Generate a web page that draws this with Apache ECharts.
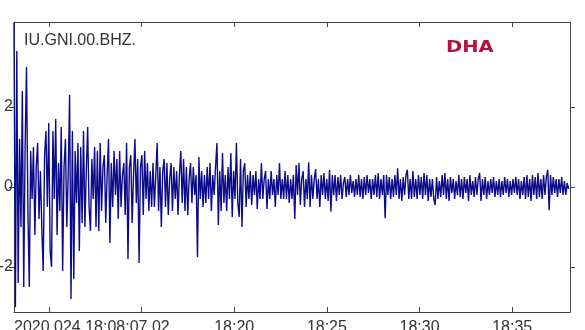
<!DOCTYPE html>
<html>
<head>
<meta charset="utf-8">
<script src="https://cdn.jsdelivr.net/npm/echarts@6/dist/echarts.min.js"></script>
<style>html,body{margin:0;padding:0;background:#fff}#c{width:585px;height:330px}</style>
</head>
<body>
<div id="c"></div>
<script>
// Station / labels
const stationLabel = 'IU.GNI.00.BHZ.';
const logoText = 'DHA';
const startLabel = '2020.024 18:08:07.02';
// time axis in minutes after 18:00
const tStart = 8.117;     // 18:08:07.02
const tEnd = 38.117;
const sampleStep = 0.075; // minutes between plotted samples
const xTickValues = [10, 15, 20, 25, 30, 35];
const xLabelValues = [8.117, 20, 25, 30, 35];
const yTickValues = [-2, 0, 2];

// amplitude samples, in segments of 50
const wave1 = [4.1, -3.0, 3.4, -2.4, 1.2, -1.0, 2.4, -2.5, 1.0, 3.0,
  -0.6, -2.5, 0.9, -0.3, 1.0, -1.2, 0.5, 1.1, -0.8, 0.4,
  -1.0, -2.1, 0.8, 1.4, -0.5, 1.6, -1.6, -2.0, 1.4, -0.3,
  1.7, -1.2, 0.6, -0.6, 1.5, -2.1, 0.5, 1.2, -1.0, 0.3,
  2.3, -2.8, 1.4, -2.3, 0.9, -0.4, 1.1, -1.6, 1.0, -0.9];
const wave2 = [1.4, -1.0, 0.4, 1.5, -0.5, -1.1, 0.7, -0.3, 1.0, -1.0,
  0.9, -1.1, 1.1, -0.6, 0.5, 0.8, -0.9, 0.3, 1.2, -1.4,
  0.6, -0.5, 0.9, -0.2, 0.7, -0.8, 0.9, -0.5, 0.3, 0.6,
  -0.7, 1.1, -1.8, 0.5, 0.8, -0.9, 0.3, 1.2, -0.4, 0.7,
  -1.9, 0.5, 0.8, -0.7, 0.9, -0.3, 0.6, -0.6, 0.4, -0.5];
const wave3 = [0.6, -0.5, 0.3, 1.1, -0.6, 0.5, -1.0, 0.4, 0.7, -0.5,
  0.6, -0.7, 0.2, 0.6, -0.6, 0.5, -0.3, 0.4, -0.7, 0.3,
  0.9, -0.4, 0.7, -0.6, 0.5, -0.7, 0.2, 0.6, -0.4, 0.5,
  -0.2, 0.3, -1.75, 0.75, -0.3, 0.4, -0.5, 0.3, -0.4, 0.5,
  -0.3, 0.6, -0.6, 0.3, -0.2, 0.5, 1.1, -0.95, 0.4, -0.6];
const wave4 = [0.85, -0.4, 0.3, -0.6, 0.5, -0.3, 0.85, -0.75, 0.4, -0.3,
  1.1, -0.4, -0.75, 0.7, -1.0, 0.4, 0.6, -0.5, 0.3, -0.3,
  0.4, -0.45, 0.3, -0.2, 0.4, -0.55, 0.2, -0.3, 0.6, -0.3,
  0.2, 0.4, -0.55, 0.2, -0.3, 0.4, -0.2, 0.2, -0.5, 0.3,
  -0.2, 0.6, -0.3, 0.2, -0.3, 0.4, -0.3, 0.3, -0.4, 0.2];
const wave5 = [-0.3, 0.3, -0.8, 0.55, -0.2, 0.6, -0.45, 0.2, 0.4, -0.5,
  0.2, -0.3, 0.62, -0.5, 0.3, -0.3, 0.2, 0.45, -0.3, 0.2,
  -0.5, 0.3, -0.2, 0.35, -0.3, 0.2, -0.35, 0.43, -0.62, 0.3,
  -0.2, 0.3, -0.35, 0.25, -0.2, 0.3, -0.3, 0.1, 0.25, -0.25,
  0.2, -0.2, 0.3, -0.15, 0.15, -0.25, 0.2, -0.2, 0.3, -0.25];
const wave6 = [0.2, -0.3, 0.25, -0.2, 0.3, -0.15, 0.2, -0.3, 0.2, -0.2,
  0.3, -0.25, 0.35, -0.3, 0.2, -0.2, 0.3, -0.78, 0.3, -0.2,
  0.25, -0.3, 0.2, -0.25, 0.3, -0.2, 0.47, -0.3, 0.2, -0.35,
  0.25, -0.2, 0.3, 0.43, -0.3, 0.2, -0.3, 0.4, -0.25, 0.2,
  -0.3, 0.3, -0.2, 0.25, -0.3, 0.35, -0.2, 0.3, -0.35, 0.2];
const wave7 = [-0.25, 0.2, -0.3, -0.45, 0.25, -0.3, 0.15, -0.25, 0.3, -0.2,
  0.35, -0.3, 0.2, -0.35, 0.25, -0.15, 0.2, -0.3, 0.15, -0.2,
  0.3, -0.25, 0.2, -0.3, 0.25, -0.15, 0.2, -0.35, 0.3, -0.2,
  0.15, -0.25, 0.25, -0.2, 0.2, 0.35, -0.35, 0.2, -0.2, 0.25,
  -0.3, 0.15, -0.2, 0.2, -0.15, 0.25, -0.25, 0.15, -0.2, 0.2];
const wave8 = [-0.25, 0.15, -0.2, 0.25, -0.15, 0.2, -0.25, 0.15, -0.2, 0.2,
  -0.15, 0.25, -0.2, 0.2, -0.3, 0.15, -0.2, 0.25, -0.3, 0.3,
  -0.25, 0.2, -0.35, 0.3, -0.2, 0.25, -0.3, 0.35, -0.25, 0.2,
  -0.3, 0.3, -0.2, 0.25, 0.43, -0.58, 0.3, -0.2, 0.25, -0.15,
  0.2, -0.25, 0.2, -0.15, 0.25, -0.2, 0.15, -0.2, 0.1, -0.05];

const amplitudes = [].concat(wave1, wave2, wave3, wave4, wave5, wave6, wave7, wave8);
const seriesData = amplitudes.map((v, i) => [tStart + i * sampleStep, v]);

const axisColor = '#444';
const textColor = '#333';
const fontFam = '"Liberation Sans", Arial, sans-serif';

const chart = echarts.init(document.getElementById('c'), null, {renderer: 'canvas'});
chart.setOption({
  animation: false,
  backgroundColor: '#fff',
  title: {
    text: stationLabel, left: 19, top: 28,
    textStyle: {fontSize: 16, fontWeight: 'normal', color: textColor, fontFamily: fontFam}
  },
  graphic: [{
    type: 'text', x: 446, y: 41, scaleX: 1.3,
    style: {text: logoText, font: 'bold 15px "DejaVu Sans"', fill: '#b3123d'}
  }],
  grid: {left: 14, right: 15, top: 22, bottom: 18, containLabel: false, outerBoundsMode: 'none'},
  xAxis: [{
    type: 'value', position: 'bottom', min: tStart, max: tEnd,
    axisLine: {show: true, onZero: false, lineStyle: {color: axisColor, width: 1}},
    axisTick: {show: true, inside: true, length: 5, customValues: xTickValues, lineStyle: {color: axisColor}},
    axisLabel: {
      show: true, customValues: xLabelValues, margin: 8, alignMinLabel: 'left',
      fontSize: 16, color: textColor, fontFamily: fontFam,
      formatter: v => (Math.abs(v - tStart) < 0.01 ? startLabel : '18:' + Math.round(v))
    },
    splitLine: {show: false}
  }, {
    type: 'value', position: 'top', min: tStart, max: tEnd,
    axisLine: {show: true, onZero: false, lineStyle: {color: axisColor, width: 1}},
    axisTick: {show: true, inside: true, length: 5, customValues: xTickValues, lineStyle: {color: axisColor}},
    axisLabel: {show: false},
    splitLine: {show: false}
  }],
  yAxis: [{
    type: 'value', position: 'left', min: -3.125, max: 4.125,
    axisLine: {show: true, onZero: false, lineStyle: {color: axisColor, width: 1}},
    axisTick: {show: true, inside: false, length: 5, customValues: yTickValues, lineStyle: {color: axisColor}},
    axisLabel: {show: true, customValues: yTickValues, margin: 1, fontSize: 16, color: textColor, fontFamily: fontFam},
    splitLine: {show: false}
  }, {
    type: 'value', position: 'right', min: -3.125, max: 4.125,
    axisLine: {show: true, onZero: false, lineStyle: {color: axisColor, width: 1}},
    axisTick: {show: true, inside: false, length: 5, customValues: yTickValues, lineStyle: {color: axisColor}},
    axisLabel: {show: false},
    splitLine: {show: false}
  }],
  series: [{
    type: 'line', xAxisIndex: 0, yAxisIndex: 0,
    data: seriesData, showSymbol: false, symbol: 'none', sampling: null,
    lineStyle: {color: '#0c0c8a', width: 1.4}, clip: true
  }]
});
</script>
</body>
</html>
